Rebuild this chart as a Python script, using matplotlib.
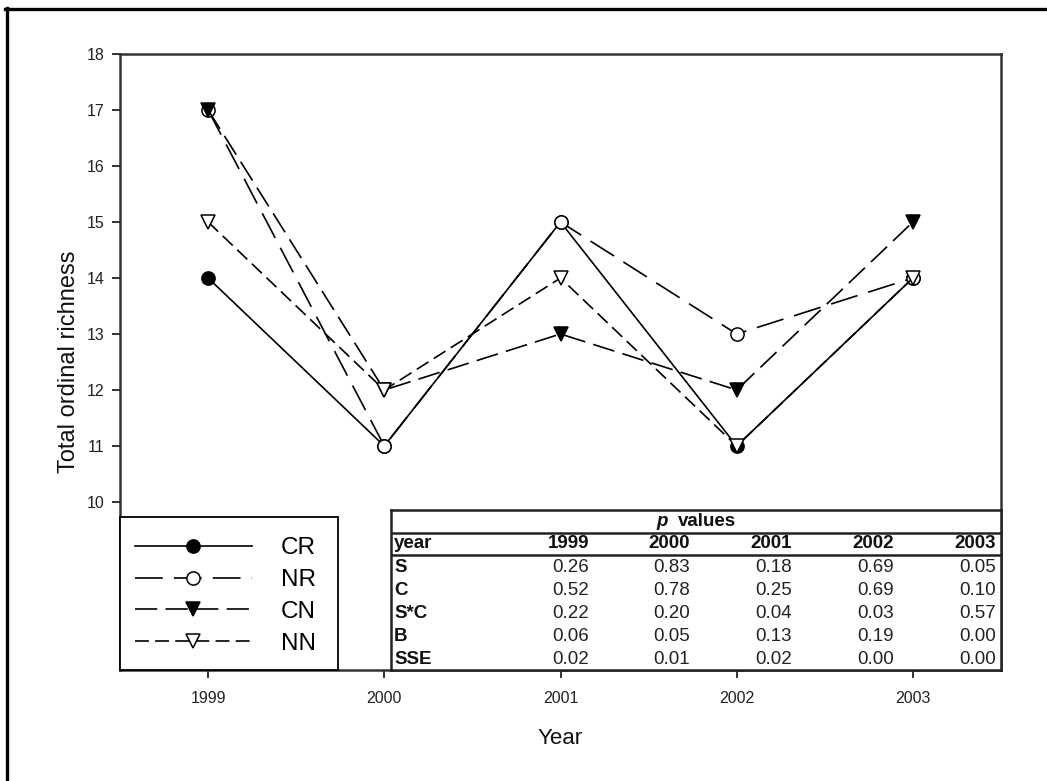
import matplotlib
matplotlib.use("Agg")
import matplotlib.pyplot as plt
from matplotlib.lines import Line2D
from matplotlib.patches import Rectangle

plt.rcParams['font.family'] = ['Liberation Sans', 'DejaVu Sans']
plt.rcParams['lines.scale_dashes'] = False

# ---- data ----
years = [1999, 2000, 2001, 2002, 2003]
cr = [14, 11, 15, 11, 14]
nr = [17, 11, 15, 13, 14]
cn = [17, 12, 13, 12, 15]
nn = [15, 12, 14, 11, 14]
series_names = ["CR", "NR", "CN", "NN"]

y_ticks = [10, 11, 12, 13, 14, 15, 16, 17, 18]

p_title = "values"
p_header = ["year", "1999", "2000", "2001", "2002", "2003"]
p_rows = ["S", "C", "S*C", "B", "SSE"]
p_S = ["0.26", "0.83", "0.18", "0.69", "0.05"]
p_C = ["0.52", "0.78", "0.25", "0.69", "0.10"]
p_SC = ["0.22", "0.20", "0.04", "0.03", "0.57"]
p_B = ["0.06", "0.05", "0.13", "0.19", "0.00"]
p_SSE = ["0.02", "0.01", "0.02", "0.00", "0.00"]
p_values = [p_S, p_C, p_SC, p_B, p_SSE]

W, H = 1047, 781
fig = plt.figure(figsize=(W / 100, H / 100), dpi=100)


def fx(px):
    return px / W


def fy(py):
    return 1 - py / H


# main axes (pixel box: x 120..1001, y 54..670)
ax = fig.add_axes([fx(120), fy(670), fx(1001) - fx(120), fy(54) - fy(670)])

lw = 1.2
styles = [
    dict(color="black", linestyle="-", marker="o", markerfacecolor="black"),
    dict(color="black", linestyle=(0, (20, 8)), marker="o", markerfacecolor="white"),
    dict(color="black", linestyle=(0, (16, 6)), marker="v", markerfacecolor="black"),
    dict(color="black", linestyle=(0, (10, 4.5)), marker="v", markerfacecolor="white"),
]
handles = []
for vals, name, st in zip([cr, nr, cn, nn], series_names, styles):
    ms = 9.5 if st["marker"] == "o" else 10
    h, = ax.plot(years, vals, linewidth=lw, markersize=ms, markeredgewidth=1.1,
                 markeredgecolor="black", label=name, **st)
    handles.append(h)

ax.set_xlim(1998.5, 2003.5)
ax.set_ylim(7, 18)
ax.set_xticks(years)
ax.set_yticks(y_ticks)
ax.tick_params(direction="out", length=6, width=1.3, colors="#222222",
               labelsize=11.5)
ax.tick_params(axis="x", pad=9)
ax.tick_params(axis="y", pad=5)
for sp in ax.spines.values():
    sp.set_linewidth(1.8)
    sp.set_color("#333333")

ax.set_ylabel("Total ordinal richness", fontsize=17, labelpad=5, color="#111111")
ax.set_xlabel("Year", fontsize=16, labelpad=16, color="#111111")

# legend box
fig.patches.append(Rectangle((fx(120), fy(670)), fx(338) - fx(120), fy(517) - fy(670),
                             transform=fig.transFigure, facecolor="white",
                             edgecolor="black", linewidth=1.3, zorder=3))
leg = fig.legend(handles=handles, loc="center left",
                 bbox_to_anchor=(fx(135), fy(596)), frameon=False,
                 fontsize=17.5, numpoints=1, handlelength=4.8,
                 handletextpad=1.2, labelspacing=0.4, borderpad=0,
                 borderaxespad=0)
leg.set_zorder(4)

# p-value table (pixel box: x 391..1001, y 510..670)
tx0, ty0, tx1, ty1 = 391, 510, 1001, 670
tax = fig.add_axes([fx(tx0), fy(ty1), fx(tx1) - fx(tx0), fy(ty0) - fy(ty1)])
tax.set_zorder(5)
tax.set_xlim(0, tx1 - tx0)
tax.set_ylim(ty1 - ty0, 0)
tax.set_xticks([])
tax.set_yticks([])
tax.set_facecolor("white")
for sp in tax.spines.values():
    sp.set_linewidth(1.8)
    sp.set_color("#222222")
tax.axhline(23, color="#222222", linewidth=1.8)
tax.axhline(45, color="#222222", linewidth=1.8)

fs_t = 13.5
tax.text(265, 12, "p", fontsize=fs_t, fontweight="bold", fontstyle="italic",
         ha="left", va="center", color="#111111")
tax.text(287, 12, p_title, fontsize=fs_t, fontweight="bold",
         ha="left", va="center", color="#111111")

col_right = [198, 299, 401, 503, 605]
tax.text(3, 34, p_header[0], fontsize=fs_t, fontweight="bold", ha="left",
         va="center", color="#111111")
for xr, lab in zip(col_right, p_header[1:]):
    tax.text(xr, 34, lab, fontsize=fs_t, fontweight="bold", ha="right",
             va="center", color="#111111")
for i, (rlab, rvals) in enumerate(zip(p_rows, p_values)):
    yc = 45 + 23 * (i + 0.55)
    tax.text(3, yc, rlab, fontsize=fs_t, fontweight="bold", ha="left",
             va="center", color="#111111")
    for xr, v in zip(col_right, rvals):
        tax.text(xr, yc, v, fontsize=fs_t, ha="right", va="center",
                 color="#222222")

# outer frame (left and top edges)
fig.add_artist(Line2D([fx(6.5), fx(6.5)], [fy(8), 0], transform=fig.transFigure,
                      color="black", linewidth=2.4))
fig.add_artist(Line2D([fx(5), 1], [fy(8.5), fy(8.5)], transform=fig.transFigure,
                      color="black", linewidth=2.4))

fig.savefig("out.png", dpi=100, facecolor="white")
